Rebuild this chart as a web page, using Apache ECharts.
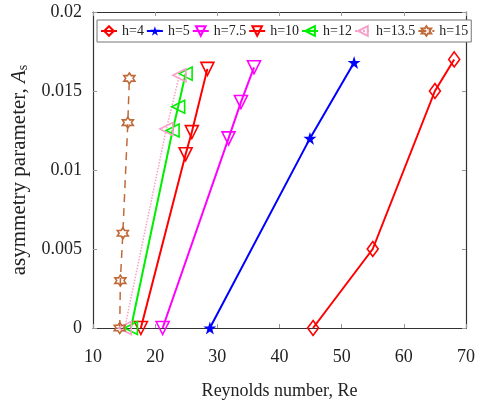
<!DOCTYPE html>
<html><head><meta charset="utf-8">
<script src="https://cdn.jsdelivr.net/npm/echarts@6/dist/echarts.min.js"></script>
<style>html,body{margin:0;padding:0;background:#fff}#c{width:478px;height:405px}</style>
</head><body><div id="c"></div>
<script>
const xTicks = [10, 20, 30, 40, 50, 60, 70];
const yTicks = [0, 0.005, 0.01, 0.015, 0.02];
const seriesNames = ['h=4', 'h=5', 'h=7.5', 'h=10', 'h=12', 'h=13.5', 'h=15'];
const re_h4 = [45.4, 55.0, 65.0, 68.1];
const as_h4 = [0, 0.005, 0.015, 0.017];
const re_h5 = [28.8, 44.9, 52.0];
const as_h5 = [0, 0.012, 0.0168];
const re_h7_5 = [21.2, 31.8, 33.8, 35.9];
const as_h7_5 = [0, 0.012, 0.0143, 0.0165];
const re_h10 = [17.7, 24.9, 25.9, 28.4];
const as_h10 = [0, 0.011, 0.0124, 0.0164];
const re_h12 = [16.1, 22.8, 23.7, 24.9];
const as_h12 = [0, 0.0125, 0.014, 0.0161];
const re_h13_5 = [15.1, 21.8, 23.9];
const as_h13_5 = [0, 0.0126, 0.016];
const re_h15 = [14.3, 14.4, 14.8, 15.6, 15.85];
const as_h15 = [0, 0.003, 0.006, 0.013, 0.0158];

const pairs = (xs, ys) => xs.map((x, i) => [x, ys[i]]);
const STAR5 = 'path://M100 0 L122.45 69.1 L195.1 69.1 L136.3 111.8 L158.8 180.9 L100 138.2 L41.2 180.9 L63.7 111.8 L4.9 69.1 L77.55 69.1 Z';
const STAR6 = 'path://M100 0 L128.87 50 L186.6 50 L157.7 100 L186.6 150 L128.87 150 L100 200 L71.13 150 L13.4 150 L42.3 100 L13.4 50 L71.13 50 Z';
const FONT = 'Liberation Serif';

function mk(name, data, color, symbol, size, rotate, filled, dash, lw) {
  return {
    name, type: 'line', data, symbol, symbolSize: size, symbolRotate: rotate,
    lineStyle: { color, width: lw || 2, type: dash || 'solid' },
    itemStyle: { color: filled ? color : 'rgba(255,255,255,0)', borderColor: color, borderWidth: filled ? 0 : 1.6 },
    emphasis: { disabled: true }, animation: false, z: 3
  };
}

const chart = echarts.init(document.getElementById('c'), null, { renderer: 'canvas' });
const axisCommon = {
  axisLine: { onZero: false, lineStyle: { color: '#333', width: 1.2 } },
  axisTick: { inside: true, length: 4, lineStyle: { color: '#999' } },
  splitLine: { show: false }
};
chart.setOption({
  animation: false,
  backgroundColor: '#fff',
  grid: { left: 93, right: 6, top: 12, bottom: 77 },
  legend: {
    data: seriesNames, left: 97, top: 20, width: 372, itemGap: 2, itemWidth: 16, itemHeight: 12,
    textStyle: { fontFamily: FONT, fontSize: 14, color: '#222' },
    borderColor: '#777', borderWidth: 1, padding: [4, 3], backgroundColor: '#fff'
  },
  xAxis: [
    Object.assign({}, axisCommon, {
      type: 'value', min: 10, max: 70, interval: 10, position: 'bottom',
      name: 'Reynolds number, Re', nameLocation: 'middle', nameGap: 54,
      nameTextStyle: { fontFamily: FONT, fontSize: 18, color: '#222' },
      axisLabel: { fontFamily: FONT, fontSize: 18, color: '#222', margin: 20,
        formatter: v => xTicks.includes(v) ? String(v) : '' }
    }),
    Object.assign({}, axisCommon, {
      type: 'value', min: 10, max: 70, interval: 10, position: 'top', axisLabel: { show: false }
    })
  ],
  yAxis: [
    Object.assign({}, axisCommon, {
      type: 'value', min: 0, max: 0.02, interval: 0.005, position: 'left',
      name: '{a|asymmetry parameter, }{i|A}{s|s}', nameLocation: 'middle', nameGap: 50, nameRotate: 90,
      nameTextStyle: { fontFamily: FONT, fontSize: 21, color: '#222',
        rich: {
          a: { fontFamily: FONT, fontSize: 21, color: '#222' },
          i: { fontFamily: FONT, fontSize: 21, fontStyle: 'italic', color: '#222' },
          s: { fontFamily: FONT, fontSize: 14, color: '#222', verticalAlign: 'bottom', padding: [9, 0, 0, 0] }
        } },
      axisLabel: { fontFamily: FONT, fontSize: 18, color: '#222', margin: 11,
        formatter: v => { const t = yTicks.find(y => Math.abs(y - v) < 1e-9); return t === undefined ? '' : String(t); } }
    }),
    Object.assign({}, axisCommon, {
      type: 'value', min: 0, max: 0.02, interval: 0.005, position: 'right', axisLabel: { show: false }
    })
  ],
  series: [
    mk('h=4', pairs(re_h4, as_h4), '#ff0000', 'diamond', [11, 15], 0, false),
    mk('h=5', pairs(re_h5, as_h5), '#0000ff', STAR5, 13, 0, true),
    mk('h=7.5', pairs(re_h7_5, as_h7_5), '#ff00ff', 'triangle', 13, 180, false),
    mk('h=10', pairs(re_h10, as_h10), '#ff0000', 'triangle', 13, 180, false),
    mk('h=12', pairs(re_h12, as_h12), '#00ee00', 'triangle', 13, 90, false),
    mk('h=13.5', pairs(re_h13_5, as_h13_5), '#f7a1c9', 'triangle', 13, 90, false, 'dotted', 1.5),
    mk('h=15', pairs(re_h15, as_h15), '#c06a3a', STAR6, 11, 0, false, [8, 6], 1.5)
  ]
});
</script></body></html>
